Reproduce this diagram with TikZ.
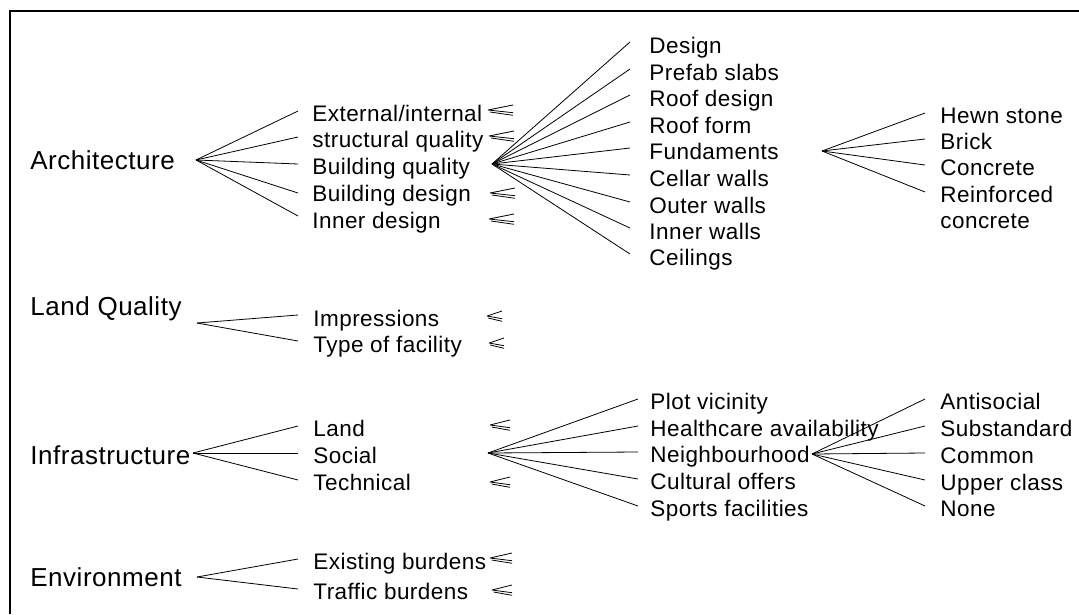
\documentclass[tikz,border=0pt]{standalone}
\usepackage{fontspec}
\setmainfont{Liberation Sans}[LetterSpace=2]
\begin{document}
\begin{tikzpicture}[x=1pt,y=-1pt,line width=0.8pt,
  top/.style={anchor=west,inner sep=0pt,font=\fontsize{26}{30}\selectfont,text height=18.5pt,text depth=0pt},
  sub/.style={anchor=west,inner sep=0pt,font=\fontsize{22.5}{27}\selectfont,text height=16pt,text depth=0pt},
  frame/.style={line width=1.4pt},
  fan/.style={line width=0.8pt},
  leq/.pic={\draw[line width=0.8pt] (0,0)--(25,-5) (0,0)--(25,2.7) (2,2)--(25,5.3);}
]
\useasboundingbox (0,0) rectangle (1079,614);
% frame
\coordinate (fTL) at (10,11);
\coordinate (fTR) at (1079,11);
\coordinate (fBL) at (10,614);
\draw[frame] (fBL) -- (fTL) -- (fTR);

% ---------- Architecture ----------
\node[top] (arch) at (30,160) {Architecture};
\coordinate (aArch) at (196,160);
\node[sub] (ext) at (312,113) {External/internal};
\node[sub] (str) at (312,139) {structural quality};
\node[sub] (bq)  at (312,166) {Building quality};
\node[sub] (bd)  at (312,193) {Building design};
\node[sub] (ind) at (312,220) {Inner design};
\foreach \n/\dy in {ext/-2,str/-2,bq/-2,bd/0,ind/-4}
  \draw[fan] (aArch) -- ([shift={(-14,\dy)}]\n.west);
\pic (m1) at (488,110) {leq};
\pic (m2) at (489,136) {leq};
\pic (m3) at (490,193) {leq};
\pic (m4) at (489,219) {leq};

\coordinate (aBQ) at (492,164);
\node[sub] (des) at (649,45) {Design};
\node[sub] (pre) at (649,72) {Prefab slabs};
\node[sub] (rd)  at (649,98) {Roof design};
\node[sub] (rf)  at (649,125) {Roof form};
\node[sub] (fun) at (649,151) {Fundaments};
\node[sub] (cel) at (649,178) {Cellar walls};
\node[sub] (out) at (649,205) {Outer walls};
\node[sub] (inw) at (649,231) {Inner walls};
\node[sub] (cei) at (649,257) {Ceilings};
\foreach \n in {des,pre,rd,rf,fun,cel,out,inw,cei}
  \draw[fan] (aBQ) -- ([shift={(-19,-3)}]\n.west);

\coordinate (aFun) at (822,151);
\node[sub] (hew) at (940,115) {Hewn stone};
\node[sub] (bri) at (940,141) {Brick};
\node[sub] (con) at (940,167) {Concrete};
\node[sub] (rei) at (940,194) {Reinforced};
\node[sub] (rec) at (940,220) {concrete};
\foreach \n in {hew,bri,con,rei}
  \draw[fan] (aFun) -- ([shift={(-15,-2)}]\n.west);

% ---------- Land Quality ----------
\node[top] (lq) at (30,306) {Land Quality};
\coordinate (aLQ) at (197,323);
\node[sub] (imp) at (313,318) {Impressions};
\node[sub] (tof) at (313,344) {Type of facility};
\foreach \n in {imp,tof}
  \draw[fan] (aLQ) -- ([shift={(-15,-3)}]\n.west);
\pic[xscale=0.6] (m5) at (487,316) {leq};
\pic[xscale=0.6] (m6) at (489,343) {leq};

% ---------- Infrastructure ----------
\node[top] (inf) at (30,455) {Infrastructure};
\coordinate (aInf) at (193,453);
\node[sub] (lan) at (313,428) {Land};
\node[sub] (soc) at (313,455) {Social};
\node[sub] (tec) at (313,482) {Technical};
\foreach \n in {lan,soc,tec}
  \draw[fan] (aInf) -- ([shift={(-15,-2)}]\n.west);
\pic[xscale=0.8] (m7) at (490,425) {leq};
\pic[xscale=0.8] (m8) at (490,482) {leq};

\coordinate (aSoc) at (488,453);
\node[sub] (plo) at (650,401) {Plot vicinity};
\node[sub] (hea) at (650,428) {Healthcare availability};
\node[sub] (nei) at (650,454) {Neighbourhood};
\node[sub] (cul) at (650,481) {Cultural offers};
\node[sub] (spo) at (650,508) {Sports facilities};
\foreach \n in {plo,hea,nei,cul,spo}
  \draw[fan] (aSoc) -- ([shift={(-12,-2)}]\n.west);

\coordinate (aNei) at (812,454);
\node[sub] (ant) at (940,401) {Antisocial};
\node[sub] (sst) at (940,428) {Substandard};
\node[sub] (com) at (940,455) {Common};
\node[sub] (upp) at (940,482) {Upper class};
\node[sub] (non) at (940,508) {None};
\foreach \n in {ant,sst,com,upp,non}
  \draw[fan] (aNei) -- ([shift={(-15,-2)}]\n.west);

% ---------- Environment ----------
\node[top] (env) at (30,577) {Environment};
\coordinate (aEnv) at (197,577);
\node[sub] (exi) at (313,561) {Existing burdens};
\node[sub] (tra) at (313,591) {Traffic burdens};
\foreach \n in {exi,tra}
  \draw[fan] (aEnv) -- ([shift={(-15,-2)}]\n.west);
\pic[xscale=0.88] (m9) at (490,558) {leq};
\pic[xscale=0.8] (m10) at (492,590) {leq};
\end{tikzpicture}
\end{document}
